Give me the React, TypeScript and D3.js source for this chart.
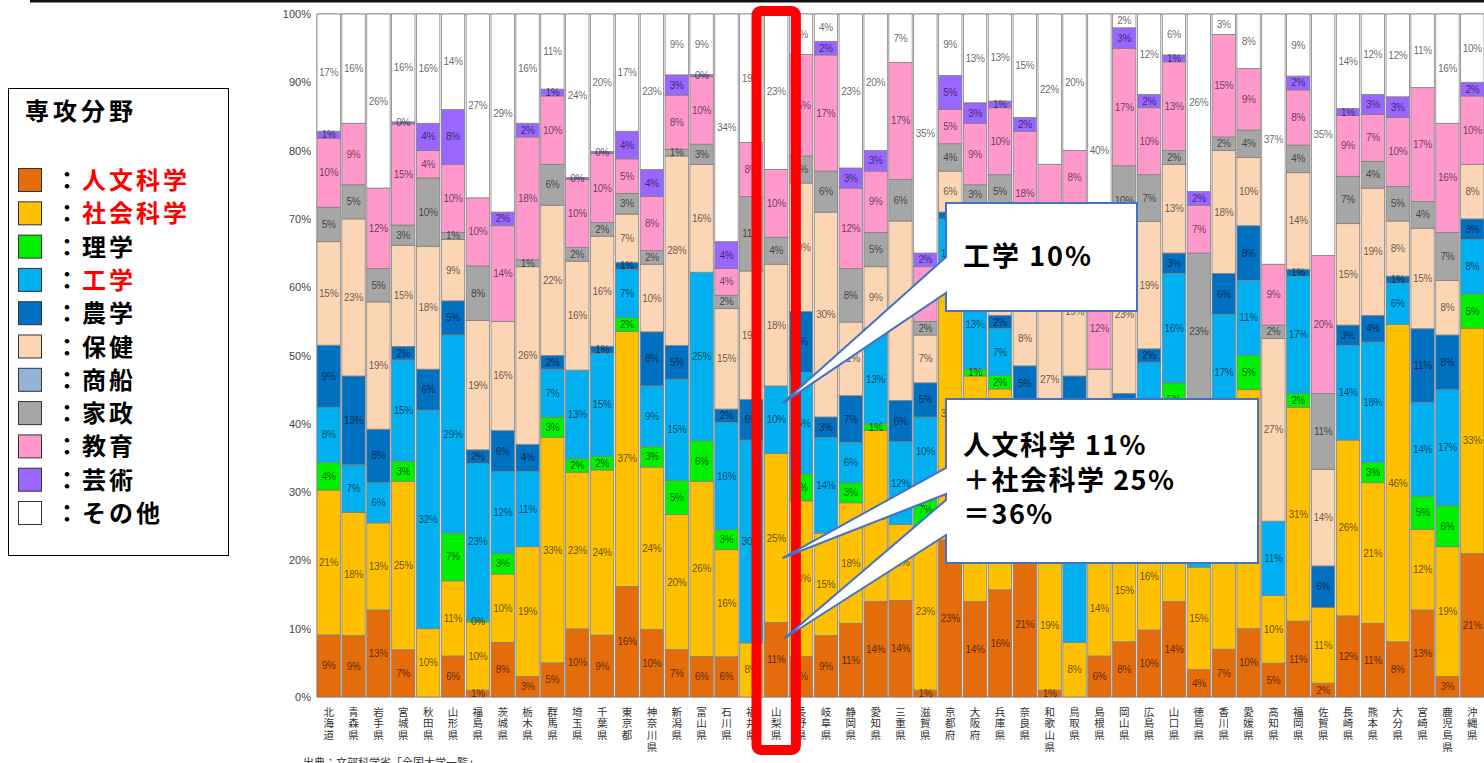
import { useEffect, useRef } from "react";
import * as d3 from "d3";

const prefectures = [
  "北海道", "青森県", "岩手県", "宮城県", "秋田県", "山形県", "福島県", "茨城県", "栃木県", "群馬県",
  "埼玉県", "千葉県", "東京都", "神奈川県", "新潟県", "富山県", "石川県", "福井県", "山梨県", "長野県",
  "岐阜県", "静岡県", "愛知県", "三重県", "滋賀県", "京都府", "大阪府", "兵庫県", "奈良県", "和歌山県",
  "鳥取県", "島根県", "岡山県", "広島県", "山口県", "徳島県", "香川県", "愛媛県", "高知県", "福岡県",
  "佐賀県", "長崎県", "熊本県", "大分県", "宮崎県", "鹿児島県", "沖縄県",
];

const categories = ["人文科学", "社会科学", "理学", "工学", "農学", "保健", "商船", "家政", "教育", "芸術", "その他"];
const categoryColors = ["#E46C0A", "#FFC000", "#00F000", "#00B0F0", "#0070C0", "#FCD5B5", "#95B3D7", "#A6A6A6", "#FF99CC", "#9966FF", "#FFFFFF"];
const redInLegend = ["人文科学", "社会科学", "工学"];

// 専攻分野ごとの割合 (%) — 都道府県順
const jinbun = [9, 9, 13, 7, 0, 6, 1, 8, 3, 5, 10, 9, 16, 10, 7, 6, 6, 0, 11, 6, 9, 11, 14, 14, 1, 23, 14, 16, 21, 1, 0, 6, 8, 10, 14, 4, 7, 10, 5, 11, 2, 12, 11, 8, 13, 3, 21];
const shakai = [21, 18, 13, 25, 10, 11, 10, 10, 19, 33, 23, 24, 37, 24, 20, 26, 16, 8, 25, 23, 15, 18, 25, 11, 23, 37, 33, 30, 17, 19, 8, 14, 15, 16, 27, 15, 30, 35, 10, 31, 11, 26, 21, 46, 12, 19, 33];
const rigaku = [4, 0, 0, 3, 0, 7, 0.3, 3, 0, 3, 2, 2, 2, 3, 5, 6, 3, 0, 0, 4, 0, 3, 1, 0, 7, 0, 1, 2, 2, 0, 0, 4, 6, 6, 5, 0, 2, 5, 0, 2, 0, 0, 3, 0, 5, 6, 5];
const kougaku = [8, 7, 6, 15, 32, 29, 23, 12, 11, 7, 13, 15, 7, 9, 15, 25, 16, 30, 10, 15, 14, 6, 13, 12, 10, 10, 13, 7, 3, 13, 28, 7, 10, 18, 16, 9, 17, 11, 11, 17, 0, 14, 18, 6, 14, 17, 8];
const nougaku = [9, 13, 8, 2, 6, 5, 2, 6, 4, 2, 0, 1, 1, 8, 5, 0, 2, 6, 0, 9, 3, 7, 1, 6, 5, 1, 0, 2, 5, 0, 11, 5, 5, 2, 3, 0, 6, 8, 0, 1, 6, 3, 4, 1, 11, 8, 3];
const hoken = [15, 23, 19, 15, 18, 9, 19, 16, 26, 22, 16, 16, 7, 10, 28, 16, 15, 19, 18, 19, 30, 11, 9, 26, 7, 6, 11, 16, 8, 27, 19, 12, 23, 19, 13, 14, 18, 10, 27, 14, 14, 15, 19, 8, 15, 8, 8];
const shousen = [0, 0, 0, 0, 0, 0, 0, 0, 0, 0, 0, 0, 0, 0, 0, 0, 0, 0, 0, 0, 0, 0, 0, 0, 0, 0, 0, 0, 0, 0, 0, 0, 0, 0, 0, 0, 0, 0, 0, 0, 0, 0, 0, 0, 0, 0, 0];
const kasei = [5, 5, 5, 3, 10, 1, 8, 0, 1, 6, 2, 2, 3, 2, 1, 3, 2, 11, 4, 4, 6, 8, 5, 6, 2, 4, 3, 5, 8, 0, 6, 0, 10, 7, 2, 23, 2, 4, 2, 4, 11, 7, 4, 5, 4, 7, 0];
const kyouiku = [10, 9, 12, 15, 4, 10, 10, 14, 18, 10, 10, 10, 5, 8, 8, 10, 4, 8, 10, 15, 17, 12, 9, 17, 8, 5, 9, 10, 18, 18, 8, 12, 17, 10, 13, 7, 15, 9, 9, 8, 20, 9, 7, 10, 17, 16, 10];
const geijutsu = [1, 0, 0, 0.3, 4, 8, 0, 2, 2, 1, 0.3, 0.3, 4, 4, 3, 0.3, 4, 0, 0, 0, 2, 3, 3, 0, 2, 5, 3, 1, 2, 0, 0, 0, 3, 2, 1, 2, 0, 0, 0, 2, 0, 1, 3, 3, 0, 0, 2];
const sonota = [17, 16, 26, 16, 16, 14, 27, 29, 16, 11, 24, 20, 17, 23, 9, 9, 34, 19, 23, 6, 4, 23, 20, 7, 35, 9, 13, 13, 15, 22, 20, 40, 2, 12, 6, 26, 3, 8, 37, 9, 35, 14, 12, 12, 11, 16, 10];

const series = [jinbun, shakai, rigaku, kougaku, nougaku, hoken, shousen, kasei, kyouiku, geijutsu, sonota];
const yTicks = [0, 0.1, 0.2, 0.3, 0.4, 0.5, 0.6, 0.7, 0.8, 0.9, 1];

const W = 1484;
const H = 763;
const JP = "'Noto Sans CJK JP', 'Noto Sans', sans-serif";
const LAT = "'Liberation Sans', Arial, sans-serif";

export default function App() {
  const svgRef = useRef<SVGSVGElement | null>(null);

  useEffect(() => {
    if (!svgRef.current) return;
    const svg = d3.select(svgRef.current);
    svg.selectAll("*").remove();

    const rows = prefectures.map((p, i) => {
      const r: Record<string, any> = { pref: p };
      categories.forEach((c, k) => (r[c] = series[k][i]));
      return r;
    });

    const stacked = d3.stack<any>().keys(categories).offset(d3.stackOffsetExpand)(rows);

    const x = d3.scaleBand().domain(prefectures).range([317, 1484]).paddingInner(0.06);
    const y = d3.scaleLinear().domain([0, 1]).range([697, 14]);
    const color = d3.scaleOrdinal<string>().domain(categories).range(categoryColors);

    svg.append("rect").attr("width", W).attr("height", H).attr("fill", "#fff");
    // top slide border
    svg.append("rect").attr("x", 30).attr("y", 0).attr("width", W - 30).attr("height", 2.5).attr("fill", "#111");

    // frame
    svg.append("line").attr("x1", 317).attr("x2", W).attr("y1", y(1)).attr("y2", y(1)).attr("stroke", "#a0a0a0");
    svg.append("line").attr("x1", 317).attr("x2", 317).attr("y1", y(1)).attr("y2", y(0)).attr("stroke", "#a0a0a0");
    svg.append("line").attr("x1", 317).attr("x2", W).attr("y1", y(0)).attr("y2", y(0)).attr("stroke", "#a0a0a0");

    // y ticks
    svg.append("g")
      .selectAll("text")
      .data(yTicks)
      .enter()
      .append("text")
      .attr("x", 311)
      .attr("y", d => y(d) + 4)
      .attr("text-anchor", "end")
      .attr("font-family", LAT)
      .attr("font-size", 11)
      .attr("fill", "#444")
      .text(d => `${Math.round(d * 100)}%`);

    // bars
    const layers = svg.append("g")
      .selectAll("g")
      .data(stacked)
      .enter()
      .append("g")
      .attr("fill", d => color(d.key));

    layers
      .selectAll("rect")
      .data(d => d.filter(s => s[1] - s[0] > 0))
      .enter()
      .append("rect")
      .attr("x", d => x(d.data.pref)!)
      .attr("y", d => y(d[1]))
      .attr("width", x.bandwidth())
      .attr("height", d => y(d[0]) - y(d[1]))
      .attr("stroke", "#808080")
      .attr("stroke-width", 0.8);

    // segment labels
    stacked.forEach(layer => {
      svg.append("g")
        .selectAll("text")
        .data(layer.filter(s => (s.data[layer.key] as number) > 0))
        .enter()
        .append("text")
        .attr("x", d => x(d.data.pref)! + x.bandwidth() / 2)
        .attr("y", d => y((d[0] + d[1]) / 2) + 3.5)
        .attr("text-anchor", "middle")
        .attr("font-family", LAT)
        .attr("font-size", 10)
        .attr("letter-spacing", -0.3)
        .attr("fill", "#000")
        .attr("fill-opacity", 0.62)
        .text(d => `${Math.round(d.data[layer.key] as number)}%`);
    });

    // x labels, written vertically
    svg.append("g")
      .selectAll("text")
      .data(prefectures)
      .enter()
      .append("text")
      .attr("x", d => x(d)! + x.bandwidth() / 2)
      .attr("y", 706.5)
      .attr("writing-mode", "vertical-rl")
      .attr("font-family", JP)
      .attr("font-size", 10.5)
      .attr("letter-spacing", 1.1)
      .attr("fill", "#333")
      .text(d => d);

    svg.append("text")
      .attr("x", 303)
      .attr("y", 767)
      .attr("font-family", JP)
      .attr("font-size", 11)
      .attr("fill", "#333")
      .text("出典：文部科学省「全国大学一覧」");

    // legend
    const lg = svg.append("g");
    lg.append("rect").attr("x", 8.5).attr("y", 88.5).attr("width", 220).attr("height", 467)
      .attr("fill", "#fff").attr("stroke", "#000").attr("stroke-width", 1);
    lg.append("text").attr("x", 25).attr("y", 120).attr("font-family", JP).attr("font-weight", 700)
      .attr("font-size", 24).attr("letter-spacing", 4).attr("fill", "#000").text("専攻分野");
    categories.forEach((c, i) => {
      const cy = 180 + i * 33.3;
      lg.append("rect").attr("x", 18.5).attr("y", cy - 11.5).attr("width", 23).attr("height", 23)
        .attr("fill", color(c)).attr("stroke", "#333").attr("stroke-width", 1);
      const t = lg.append("text").attr("x", 55).attr("y", cy + 9).attr("font-family", JP)
        .attr("font-weight", 700).attr("font-size", 24).attr("letter-spacing", 3);
      t.append("tspan").attr("fill", "#000").text("：");
      t.append("tspan").attr("fill", redInLegend.includes(c) ? "#FF0000" : "#000").text(c);
    });

    // highlight box on 山梨県
    const yx = x("山梨県")!;
    svg.append("rect")
      .attr("x", yx - 8).attr("y", 11)
      .attr("width", x.bandwidth() + 16).attr("height", 739)
      .attr("rx", 4)
      .attr("fill", "none").attr("stroke", "#FF0000").attr("stroke-width", 10);

    // callouts
    const tx = yx + 18;
    const c1 = `M946,203 H1137 V311 H946 V293 L${tx},${y(0.43)} L946,257 Z`;
    svg.append("path").attr("d", c1).attr("fill", "#fff").attr("stroke", "#4472C4").attr("stroke-width", 2);
    svg.append("text").attr("x", 963).attr("y", 266).attr("font-family", JP).attr("font-weight", 700)
      .attr("font-size", 27).attr("letter-spacing", 2).attr("fill", "#000").text("工学 10%");

    const c2 = `M946,399 H1258 V563 H946 V535 L${tx + 2},${y(0.086)} L946,500 V494 L${tx},${y(0.2035)} L946,468 Z`;
    svg.append("path").attr("d", c2).attr("fill", "#fff").attr("stroke", "#4472C4").attr("stroke-width", 2);
    ["人文科学 11%", "＋社会科学 25%", "＝36%"].forEach((s, i) => {
      svg.append("text").attr("x", 963).attr("y", 455 + i * 34.5).attr("font-family", JP)
        .attr("font-weight", 700).attr("font-size", 27).attr("letter-spacing", 1.5).attr("fill", "#000").text(s);
    });
  }, []);

  return (
    <svg
      ref={svgRef}
      width={W}
      height={H}
      style={{ position: "absolute", left: 0, top: 0, display: "block" }}
    />
  );
}
